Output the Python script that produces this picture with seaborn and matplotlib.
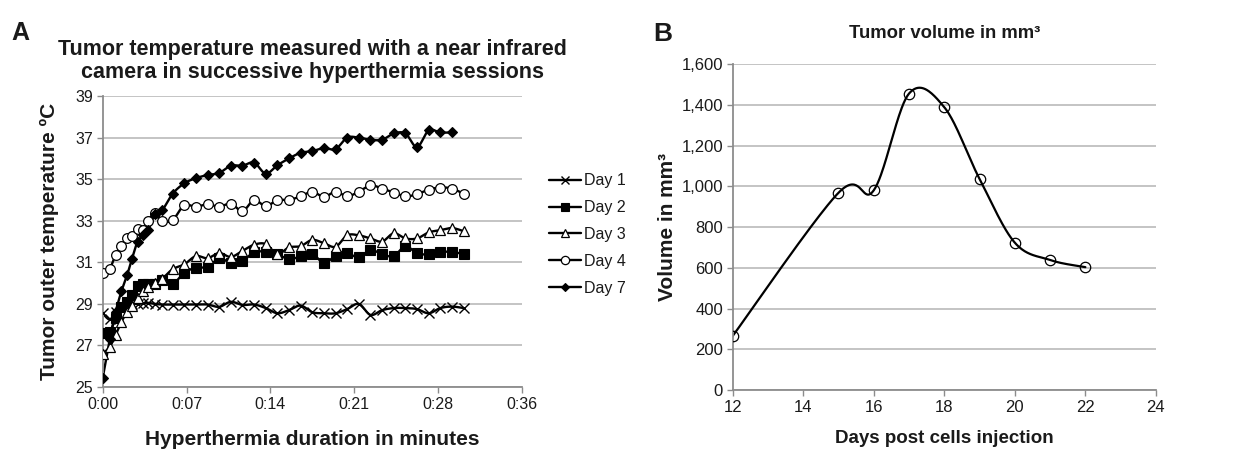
import numpy as np
import pandas as pd
import matplotlib
matplotlib.use("Agg")
import matplotlib.pyplot as plt
from matplotlib.lines import Line2D
from matplotlib.ticker import FuncFormatter
import seaborn as sns

# Panel A: tumor temperature (minutes into session, degrees C)
minutes = [0, 0.6, 1.1, 1.6, 2.1, 2.5, 3.0, 3.5, 3.9, 4.5, 5.1, 6, 7, 8, 9, 10,
           11, 12, 13, 14, 15, 16, 17, 18, 19, 20, 21, 22, 23, 24, 25, 26, 27,
           28, 29, 30, 31]
day1 = [28.54, 28.25, 28.6, 28.86, 28.97, 29.0, 29.0, 29.03, 29.05, 29.0, 28.97,
        28.97, 28.97, 28.97, 28.97, 28.86, 29.1, 28.95, 28.97, 28.8, 28.55, 28.7,
        28.92, 28.6, 28.55, 28.55, 28.75, 29.0, 28.47, 28.7, 28.8, 28.8, 28.75,
        28.55, 28.8, 28.87, 28.8]
day2 = [27.58, 27.65, 28.3, 28.86, 29.1, 29.42, 29.86, 29.94, 29.95, 29.95, 30.14,
        29.95, 30.5, 30.74, 30.78, 31.19, 30.98, 31.05, 31.5, 31.5, 31.4, 31.14,
        31.3, 31.4, 30.98, 31.3, 31.43, 31.24, 31.6, 31.39, 31.3, 31.78, 31.43,
        31.39, 31.5, 31.5, 31.4]
day3 = [26.6, 26.94, 27.5, 28.14, 28.6, 28.9, 29.3, 29.6, 29.8, 30.0, 30.2,
        30.67, 30.9, 31.3, 31.2, 31.45, 31.26, 31.55, 31.85, 31.88, 31.4, 31.72,
        31.78, 32.08, 31.92, 31.75, 32.3, 32.3, 32.15, 32.0, 32.4, 32.15, 32.15,
        32.44, 32.55, 32.65, 32.5]
day4 = [30.47, 30.7, 31.35, 31.8, 32.15, 32.26, 32.6, 32.58, 33.0, 33.38, 33.0,
        33.03, 33.75, 33.67, 33.8, 33.67, 33.83, 33.46, 34.0, 33.7, 34.0, 34.0,
        34.18, 34.4, 34.15, 34.4, 34.18, 34.4, 34.7, 34.55, 34.36, 34.18, 34.28,
        34.5, 34.6, 34.55, 34.3]
day7 = [25.45, 27.3, 28.6, 29.6, 30.4, 31.15, 32.0, 32.3, 32.55, 33.35, 33.5,
        34.3, 34.8, 35.05, 35.2, 35.3, 35.65, 35.65, 35.8, 35.27, 35.67, 36.0,
        36.27, 36.35, 36.5, 36.45, 37.0, 37.0, 36.9, 36.9, 37.2, 37.2, 36.55,
        37.35, 37.25, 37.25]
time_tick_labels = ["0:00", "0:07", "0:14", "0:21", "0:28", "0:36"]

# Panel B: tumor volume
days = [12, 15, 16, 17, 18, 19, 20, 21, 22]
volume = [265, 968, 980, 1455, 1388, 1036, 723, 638, 603]


def smooth(x, y, n=24):
    """Excel-like smoothed line: Catmull-Rom Bezier through the points"""
    pts = np.column_stack([x, y]).astype(float)
    out = []
    for i in range(len(pts) - 1):
        p0 = pts[i - 1] if i > 0 else pts[i]
        p1, p2 = pts[i], pts[i + 1]
        p3 = pts[i + 2] if i + 2 < len(pts) else pts[i + 1]
        c1 = p1 + (p2 - p0) / 6
        c2 = p2 - (p3 - p1) / 6
        t = np.linspace(0, 1, n)[:, None]
        seg = (1 - t) ** 3 * p1 + 3 * (1 - t) ** 2 * t * c1 + 3 * (1 - t) * t ** 2 * c2 + t ** 3 * p2
        out.append(seg if i == 0 else seg[1:])
    s = np.vstack(out)
    return s[:, 0], s[:, 1]


sns.set_theme(style="white")
plt.rcParams['font.family'] = ['Liberation Sans', 'DejaVu Sans']
grid_c = '#b4b4b4'
axis_c = '#8c8c8c'
text_c = '#1a1a1a'

fig = plt.figure(figsize=(12.38, 4.49), dpi=100)
axA = fig.add_axes([0.083, 0.138, 0.3385, 0.648])
axB = fig.add_axes([0.5918, 0.1314, 0.3419, 0.726])

series = [
    ("Day 1", day1, dict(marker='x', markersize=6.5, markerfacecolor='black', markeredgewidth=1.0)),
    ("Day 2", day2, dict(marker='s', markersize=6.5, markerfacecolor='black', markeredgewidth=0.8)),
    ("Day 3", day3, dict(marker='^', markersize=6.5, markerfacecolor='white', markeredgewidth=0.9)),
    ("Day 4", day4, dict(marker='o', markersize=7, markerfacecolor='white', markeredgewidth=0.9)),
    ("Day 7", day7, dict(marker='D', markersize=5, markerfacecolor='black', markeredgewidth=0.8)),
]

handles = []
for name, vals, mk in series:
    t = minutes[:len(vals)]
    sx, sy = smooth(t, vals)
    sns.lineplot(x=sx, y=sy, ax=axA, color='black', lw=1.7, sort=False, estimator=None)
    axA.plot(t, vals, linestyle='none', color='black', markeredgecolor='black', zorder=3, **mk)
    leg_mk = dict(mk)
    leg_mk['markersize'] = mk['markersize'] * 0.85
    handles.append(Line2D([0], [0], color='black', lw=1.7, markeredgecolor='black', label=name, **leg_mk))

for ax in (axA, axB):
    ax.grid(axis='y', color=grid_c, lw=1.1)
    ax.grid(axis='x', visible=False)
    for side in ('top', 'right'):
        ax.spines[side].set_visible(False)
    for side in ('left', 'bottom'):
        ax.spines[side].set_color(axis_c)
        ax.spines[side].set_linewidth(1.3)
    ax.tick_params(axis='both', which='major', direction='out', length=4, width=1,
                   color=axis_c, labelsize=11.5, labelcolor=text_c, pad=3, left=True, bottom=True)
    ax.set_axisbelow(True)

axA.set_xlim(0, 36)
axA.set_ylim(25, 39)
axA.set_yticks(np.arange(25, 40, 2))
axA.set_xticks(np.linspace(0, 36, len(time_tick_labels)))
axA.set_xticklabels(time_tick_labels)
axA.set_title("Tumor temperature measured with a near infrared\ncamera in successive hyperthermia sessions",
              fontsize=15.5, fontweight='bold', color=text_c, pad=13, linespacing=1.12)
axA.set_xlabel("Hyperthermia duration in minutes", fontsize=15, fontweight='bold', color=text_c, labelpad=13)
axA.set_ylabel("Tumor outer temperature ºC", fontsize=15, fontweight='bold', color=text_c, labelpad=12)
axA.legend(handles=handles, loc='center left', bbox_to_anchor=(1.03, 0.524), frameon=False,
           fontsize=11.5, handlelength=2.0, handletextpad=0.2, labelspacing=0.75, labelcolor=text_c)

sx, sy = smooth(days, volume, n=40)
sns.lineplot(x=sx, y=sy, ax=axB, color='black', lw=1.6, sort=False, estimator=None)
axB.plot(days, volume, linestyle='none', marker='o', markersize=7.5, markerfacecolor='none',
         markeredgecolor='black', markeredgewidth=0.9, zorder=3)
axB.set_xlim(12, 24)
axB.set_ylim(0, 1600)
axB.set_xticks(np.arange(12, 25, 2))
axB.set_yticks(np.arange(0, 1601, 200))
axB.yaxis.set_major_formatter(FuncFormatter(lambda v, p: f"{v:,.0f}"))
axB.tick_params(axis='both', labelsize=12)
axB.set_title("Tumor volume in mm³", fontsize=13.3, fontweight='bold', color=text_c, pad=19)
axB.set_xlabel("Days post cells injection", fontsize=13.5, fontweight='bold', color=text_c, labelpad=11)
axB.set_ylabel("Volume in mm³", fontsize=15, fontweight='bold', color=text_c, labelpad=3)

fig.text(0.009, 0.912, "A", fontsize=18, fontweight='bold', color=text_c)
fig.text(0.528, 0.909, "B", fontsize=19, fontweight='bold', color=text_c)

fig.savefig("out.png", dpi=100, facecolor='white')
